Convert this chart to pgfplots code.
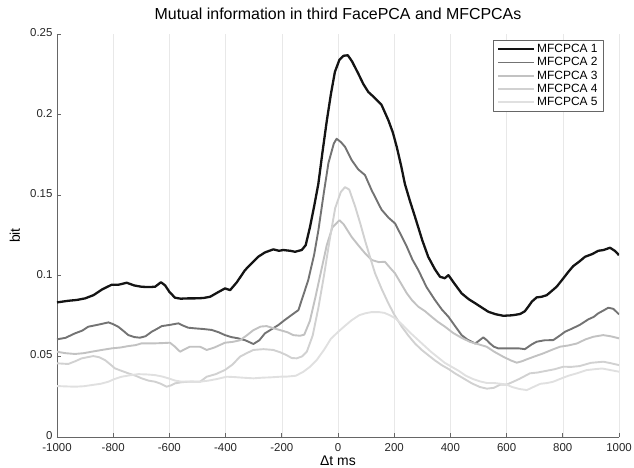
\documentclass[border=0pt]{standalone}
\usepackage{fontspec}
\setmainfont{Liberation Sans}
\usepackage{pgfplots}
\pgfplotsset{compat=1.18}
\definecolor{c1}{gray}{0.08}
\definecolor{c2}{gray}{0.45}
\definecolor{c3}{gray}{0.76}
\definecolor{c4}{gray}{0.82}
\definecolor{c5}{gray}{0.88}
\definecolor{gridc}{gray}{0.91}
\definecolor{axc}{gray}{0.40}
\begin{document}
\begin{tikzpicture}
\useasboundingbox (-57bp,-31bp) rectangle (577bp,437bp);
\begin{axis}[
  at={(0,0)}, anchor=south west,
  width=562bp, height=403bp, scale only axis,
  xmin=-1000, xmax=1000, ymin=0, ymax=0.25,
  axis lines*=left,
  axis line style={axc, line width=0.7bp},
  tick style={axc, line width=0.7bp},
  major tick length=4bp,
  tick align=inside,
  xtick={-1000,-800,...,1000},
  ytick={0,0.05,0.1,0.15,0.2,0.25},
  scaled y ticks=false,
  xmajorgrids, grid style={gridc, line width=0.6bp},
  /pgf/number format/assume math mode=true,
  /pgf/number format/1000 sep={},
  yticklabel style={/pgf/number format/fixed, /pgf/number format/precision=2, xshift=-1bp, yshift=1.5bp},
  xticklabel style={yshift=-2.5bp},
  tick label style={font=\fontsize{11.5}{12}\selectfont, text=black!85},
  title={Mutual information in third FacePCA and MFCPCAs},
  title style={font=\fontsize{16}{17}\selectfont, at={(axis description cs:0.5,1.035)}, anchor=center},
  xlabel={Δt ms},
  ylabel={bit},
  xlabel style={font=\fontsize{14}{15}\selectfont, at={(axis description cs:0.5,-0.06)}, anchor=center},
  ylabel style={font=\fontsize{14}{15}\selectfont, at={(axis description cs:-0.075,0.5)}, anchor=center},
  legend style={at={(rel axis cs:1,1)}, anchor=north east, xshift=-15bp, yshift=-6bp,
    draw=axc, line width=0.7bp, font=\fontsize{12}{12.5}\selectfont,
    row sep=-0.6bp, inner xsep=4bp, inner ysep=2bp, cells={anchor=west}},
  legend image code/.code={\draw[#1] (0bp,0bp) -- (36bp,0bp);},
  line join=round,
]
\addplot[c1, line width=2.3bp] coordinates {
(-1000,0.0835)(-960,0.0845)(-930,0.085)(-900,0.086)(-870,0.088)(-840,0.0915)(-805,0.0945)(-780,0.0945)(-752,0.0957)(-725,0.094)(-699,0.0932)(-675,0.093)(-651,0.0932)(-630,0.096)(-615,0.094)(-600,0.090)(-580,0.0864)(-560,0.0858)(-533,0.086)(-509,0.086)(-480,0.0862)(-455,0.087)(-430,0.0895)(-402,0.0922)(-384,0.0911)(-360,0.096)(-331,0.1035)(-300,0.109)(-284,0.1118)(-260,0.1145)(-230,0.1164)(-210,0.1155)(-195,0.116)(-170,0.1155)(-153,0.1149)(-129,0.116)(-115,0.119)(-100,0.130)(-85,0.143)(-70,0.157)(-55,0.177)(-40,0.196)(-25,0.213)(-11,0.2265)(5,0.234)(20,0.2365)(35,0.2368)(50,0.233)(72,0.2255)(90,0.219)(108,0.214)(130,0.2105)(155,0.206)(179,0.1966)(195,0.189)(209,0.180)(225,0.168)(238,0.157)(255,0.147)(274,0.1366)(300,0.122)(321,0.1118)(345,0.104)(363,0.0994)(380,0.0985)(393,0.1004)(415,0.095)(440,0.0891)(465,0.0855)(488,0.083)(510,0.0805)(535,0.0777)(560,0.0762)(588,0.0752)(620,0.0755)(648,0.0763)(665,0.078)(677,0.0808)(690,0.084)(707,0.0866)(725,0.087)(743,0.088)(760,0.0905)(778,0.0932)(800,0.098)(820,0.1025)(837,0.106)(860,0.109)(879,0.1118)(905,0.1135)(926,0.1155)(945,0.116)(968,0.1174)(985,0.1155)(1000,0.1128)
};
\addlegendentry{MFCPCA 1}
\addplot[c2, line width=1.9bp] coordinates {
(-1000,0.0606)(-970,0.0615)(-936,0.0643)(-910,0.066)(-889,0.0684)(-850,0.0698)(-817,0.0711)(-800,0.070)(-782,0.0684)(-765,0.066)(-746,0.0632)(-725,0.062)(-705,0.0616)(-685,0.0625)(-663,0.0653)(-645,0.067)(-627,0.0688)(-600,0.0695)(-568,0.0705)(-550,0.069)(-533,0.0678)(-509,0.0674)(-480,0.067)(-449,0.0664)(-425,0.065)(-402,0.0632)(-380,0.062)(-355,0.0612)(-330,0.060)(-301,0.0577)(-280,0.060)(-260,0.0643)(-235,0.067)(-212,0.0695)(-190,0.0725)(-165,0.0757)(-141,0.0787)(-129,0.085)(-106,0.0973)(-85,0.113)(-70,0.128)(-50,0.152)(-34,0.170)(-15,0.182)(-5,0.185)(10,0.183)(25,0.180)(49,0.1717)(72,0.166)(96,0.1625)(120,0.153)(155,0.141)(180,0.136)(203,0.1325)(225,0.125)(245,0.118)(265,0.110)(286,0.1035)(315,0.093)(345,0.085)(370,0.079)(393,0.0746)(420,0.068)(440,0.0632)(460,0.0605)(476,0.0591)(488,0.058)(500,0.0595)(517,0.0618)(530,0.060)(541,0.058)(555,0.056)(570,0.055)(600,0.055)(642,0.055)(665,0.0545)(690,0.0575)(707,0.0591)(735,0.060)(766,0.0601)(790,0.063)(808,0.0653)(830,0.067)(860,0.0695)(891,0.073)(910,0.0745)(926,0.0767)(945,0.0785)(962,0.0802)(980,0.0795)(1000,0.0761)
};
\addlegendentry{MFCPCA 2}
\addplot[c3, line width=1.9bp] coordinates {
(-1000,0.0529)(-970,0.052)(-936,0.0515)(-905,0.052)(-877,0.0529)(-840,0.054)(-805,0.055)(-775,0.0555)(-746,0.0564)(-720,0.057)(-699,0.0581)(-651,0.0581)(-620,0.0583)(-598,0.0585)(-580,0.056)(-562,0.0529)(-545,0.0545)(-527,0.056)(-491,0.056)(-467,0.054)(-440,0.0555)(-402,0.0585)(-375,0.059)(-349,0.060)(-325,0.063)(-301,0.0663)(-275,0.0685)(-254,0.0688)(-230,0.0675)(-206,0.0663)(-180,0.065)(-159,0.0632)(-135,0.0628)(-120,0.0635)(-100,0.072)(-80,0.087)(-60,0.103)(-40,0.119)(-20,0.130)(5,0.1345)(20,0.132)(49,0.124)(72,0.119)(96,0.114)(120,0.1098)(145,0.1085)(167,0.1087)(185,0.105)(203,0.1015)(225,0.095)(245,0.0891)(265,0.0845)(286,0.0808)(310,0.078)(333,0.0746)(355,0.0715)(381,0.0684)(410,0.0645)(440,0.0615)(470,0.059)(500,0.0575)(529,0.056)(555,0.053)(588,0.0498)(615,0.0475)(636,0.0461)(655,0.047)(672,0.0482)(700,0.050)(731,0.0519)(760,0.054)(790,0.056)(820,0.0568)(850,0.058)(880,0.0605)(909,0.0622)(944,0.0632)(970,0.0625)(1000,0.0612)
};
\addlegendentry{MFCPCA 3}
\addplot[c4, line width=1.9bp] coordinates {
(-1000,0.0457)(-960,0.0453)(-935,0.047)(-912,0.0488)(-871,0.0502)(-850,0.0495)(-829,0.0477)(-810,0.045)(-794,0.0426)(-770,0.041)(-746,0.0395)(-720,0.038)(-699,0.0364)(-675,0.035)(-651,0.0343)(-630,0.033)(-610,0.0312)(-595,0.032)(-580,0.0333)(-555,0.034)(-533,0.0343)(-491,0.0343)(-467,0.0374)(-435,0.039)(-402,0.0416)(-375,0.045)(-349,0.0498)(-325,0.052)(-301,0.054)(-265,0.0545)(-230,0.054)(-205,0.0525)(-183,0.0508)(-165,0.049)(-147,0.0488)(-128,0.050)(-111,0.0529)(-90,0.063)(-70,0.080)(-50,0.100)(-30,0.122)(-10,0.142)(10,0.152)(25,0.155)(40,0.1535)(61,0.143)(80,0.132)(96,0.122)(115,0.111)(132,0.1015)(155,0.092)(179,0.083)(200,0.076)(227,0.0684)(250,0.063)(274,0.058)(298,0.054)(321,0.0508)(345,0.0475)(369,0.0446)(395,0.042)(416,0.0395)(450,0.036)(476,0.0333)(505,0.031)(530,0.030)(555,0.0305)(577,0.0325)(600,0.0325)(620,0.034)(645,0.036)(683,0.0395)(710,0.040)(740,0.041)(770,0.042)(802,0.0436)(830,0.0435)(860,0.044)(900,0.046)(944,0.0467)(970,0.0458)(1000,0.0446)
};
\addlegendentry{MFCPCA 4}
\addplot[c5, line width=1.9bp] coordinates {
(-1000,0.0316)(-970,0.0314)(-936,0.0312)(-905,0.0315)(-877,0.0322)(-845,0.033)(-817,0.0343)(-795,0.036)(-770,0.0374)(-740,0.0383)(-711,0.039)(-680,0.0388)(-651,0.0384)(-625,0.0375)(-604,0.0364)(-580,0.035)(-556,0.0343)(-520,0.0345)(-491,0.0343)(-460,0.035)(-430,0.036)(-396,0.0374)(-370,0.0372)(-340,0.0368)(-301,0.0364)(-270,0.0368)(-240,0.037)(-206,0.0374)(-180,0.0375)(-150,0.038)(-123,0.0405)(-100,0.0435)(-76,0.0477)(-50,0.054)(-25,0.061)(1,0.0653)(25,0.069)(49,0.0725)(75,0.0755)(96,0.0767)(120,0.0775)(145,0.0775)(165,0.077)(185,0.0755)(205,0.0735)(230,0.0695)(255,0.065)(280,0.061)(305,0.057)(330,0.053)(355,0.0495)(380,0.046)(405,0.0435)(430,0.041)(455,0.038)(480,0.036)(505,0.0345)(530,0.0335)(555,0.0335)(580,0.033)(600,0.0325)(620,0.031)(645,0.0298)(672,0.0291)(695,0.031)(720,0.033)(745,0.0335)(766,0.0343)(790,0.036)(820,0.038)(850,0.0395)(885,0.0415)(910,0.042)(940,0.0425)(970,0.0415)(1000,0.0405)
};
\addlegendentry{MFCPCA 5}
\end{axis}
\end{tikzpicture}
\end{document}
